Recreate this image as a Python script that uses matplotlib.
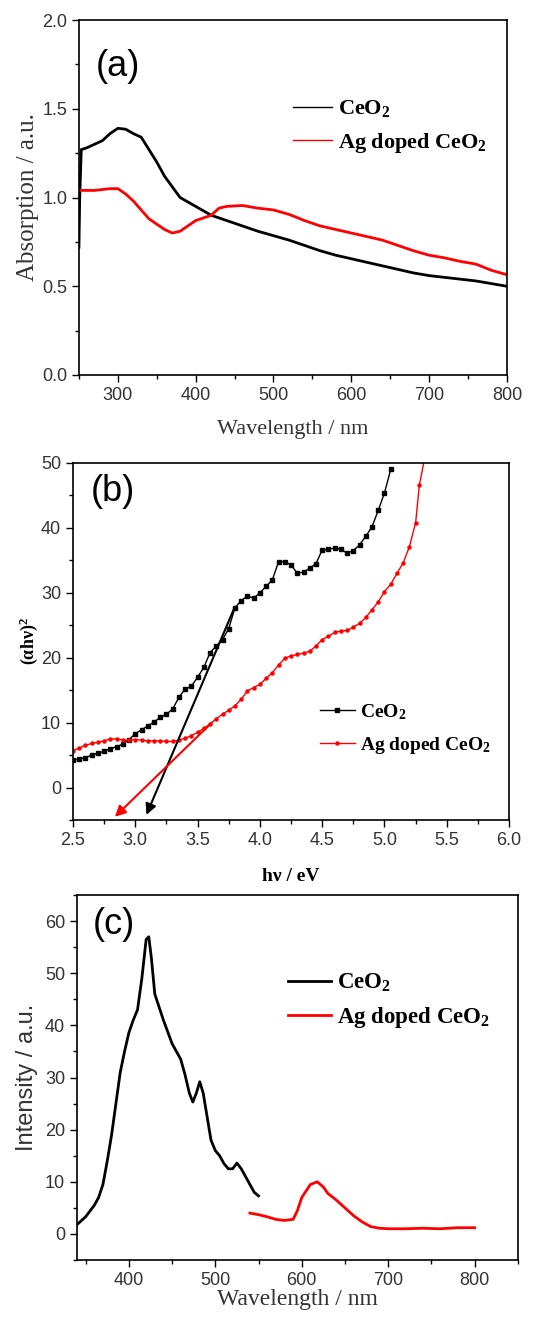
import matplotlib
matplotlib.use("Agg")
import matplotlib.pyplot as plt
from matplotlib.ticker import MultipleLocator, FormatStrFormatter

# (a) UV-vis absorption
wl_a = [250, 251, 253, 260, 270, 280, 290, 300, 310, 320, 330, 340, 350, 360, 370, 380,
        400, 420, 440, 460, 480, 500, 520, 540, 560, 580, 600, 620, 640, 660, 680,
        700, 720, 740, 760, 780, 800]
abs_ceo2 = [0.72, 1.0, 1.27, 1.28, 1.30, 1.32, 1.36, 1.39, 1.385, 1.36, 1.34, 1.27, 1.2, 1.12,
            1.06, 1.0, 0.95, 0.9, 0.87, 0.84, 0.81, 0.785, 0.76, 0.73, 0.70, 0.675, 0.655,
            0.635, 0.615, 0.595, 0.575, 0.56, 0.55, 0.54, 0.53, 0.515, 0.50]
wl_a2 = [250, 270, 290, 300, 310, 320, 330, 340, 350, 360, 370, 380, 390, 400, 420, 430, 440,
         460, 480, 500, 520, 540, 560, 580, 600, 620, 640, 660, 680, 700, 720, 740, 760, 780, 800]
abs_ag = [1.04, 1.04, 1.05, 1.05, 1.02, 0.98, 0.93, 0.88, 0.85, 0.82, 0.80, 0.81, 0.84, 0.87,
          0.9, 0.94, 0.95, 0.955, 0.94, 0.93, 0.905, 0.87, 0.84, 0.82, 0.80, 0.78, 0.76, 0.73,
          0.70, 0.675, 0.66, 0.64, 0.625, 0.59, 0.565]

# (b) Tauc plot
ev_ceo2 = [2.5, 2.55, 2.6, 2.65, 2.7, 2.75, 2.8, 2.85, 2.9, 2.95, 3.0, 3.05, 3.1, 3.15, 3.2,
           3.25, 3.3, 3.35, 3.4, 3.45, 3.5, 3.55, 3.6, 3.65, 3.7, 3.75, 3.8, 3.85, 3.9, 3.95,
           4.0, 4.05, 4.1, 4.15, 4.2, 4.25, 4.3, 4.35, 4.4, 4.45, 4.5, 4.55, 4.6, 4.65, 4.7,
           4.75, 4.8, 4.85, 4.9, 4.95, 5.0, 5.05]
tauc_ceo2 = [4.2, 4.4, 4.6, 5.0, 5.3, 5.6, 6.0, 6.3, 6.7, 7.4, 8.3, 8.9, 9.5, 10.1, 10.8, 11.3,
             12.1, 13.9, 15.2, 15.6, 17.0, 18.5, 20.8, 21.8, 22.8, 24.5, 27.7, 28.8, 29.5,
             29.2, 30.0, 31.0, 32.0, 34.8, 34.8, 34.3, 33.0, 33.2, 33.8, 34.5, 36.6, 36.7,
             36.9, 36.7, 36.1, 36.5, 37.4, 38.7, 40.2, 42.7, 45.4, 49.0]
ev_ag = [2.5, 2.55, 2.6, 2.65, 2.7, 2.75, 2.8, 2.85, 2.9, 2.95, 3.0, 3.05, 3.1, 3.15, 3.2,
         3.25, 3.3, 3.35, 3.4, 3.45, 3.5, 3.55, 3.6, 3.65, 3.7, 3.75, 3.8, 3.85, 3.9, 3.95,
         4.0, 4.05, 4.1, 4.15, 4.2, 4.25, 4.3, 4.35, 4.4, 4.45, 4.5, 4.55, 4.6, 4.65, 4.7,
         4.75, 4.8, 4.85, 4.9, 4.95, 5.0, 5.05, 5.1, 5.15, 5.2, 5.25, 5.28, 5.32]
tauc_ag = [5.7, 6.1, 6.5, 6.8, 7.0, 7.2, 7.5, 7.5, 7.3, 7.3, 7.4, 7.3, 7.2, 7.2, 7.2, 7.1,
           7.1, 7.3, 7.6, 8.0, 8.5, 9.1, 9.8, 10.6, 11.3, 11.9, 12.6, 13.6, 14.9, 15.4,
           15.9, 16.8, 17.7, 18.9, 19.9, 20.3, 20.5, 20.7, 21.0, 21.8, 22.8, 23.3, 23.9,
           24.1, 24.2, 24.7, 25.3, 26.2, 27.4, 28.6, 30.2, 31.3, 33.0, 34.6, 37.1, 40.8,
           46.6, 50.5]
fit_ceo2 = [(3.80, 27.9), (3.08, -4.6)]
fit_ag = [(3.63, 10.3), (2.82, -4.8)]

# (c) PL spectra
wl_c = [340, 350, 360, 365, 370, 375, 380, 385, 390, 395, 400, 405, 410, 415, 420, 423, 426,
        430, 440, 450, 460, 465, 470, 474, 478, 482, 486, 490, 495, 500, 505, 510, 515, 520,
        525, 530, 535, 540, 545, 550]
pl_ceo2 = [1.8, 3.3, 5.5, 7.0, 9.5, 14.0, 19.0, 25.0, 31.0, 35.0, 38.6, 41.0, 43.0, 49.0, 56.5,
           57.0, 53.0, 46.0, 41.0, 36.5, 33.5, 30.5, 27.0, 25.3, 27.0, 29.2, 27.0, 23.0, 18.0,
           16.0, 15.0, 13.5, 12.5, 12.5, 13.6, 12.5, 11.0, 9.5, 8.0, 7.3]
wl_c2 = [540, 550, 560, 570, 580, 590, 595, 600, 610, 618, 625, 630, 640, 650, 660, 670, 680,
         690, 700, 720, 740, 760, 780, 800]
pl_ag = [4.0, 3.7, 3.3, 2.8, 2.6, 2.8, 4.5, 7.0, 9.5, 10.0, 9.0, 7.8, 6.5, 5.0, 3.5, 2.3, 1.4,
         1.1, 1.0, 1.0, 1.1, 1.0, 1.2, 1.2]

serif = "Liberation Serif"
sans = "Liberation Sans"
plt.rcParams["font.family"] = sans
plt.rcParams["mathtext.default"] = "regular"

fig = plt.figure(figsize=(5.37, 13.19), dpi=100)
ax1 = fig.add_axes([0.147, 0.7157, 0.797, 0.2691])
ax2 = fig.add_axes([0.136, 0.3783, 0.812, 0.2707])
ax3 = fig.add_axes([0.1434, 0.0447, 0.821, 0.2767])

for ax in (ax1, ax2, ax3):
    ax.tick_params(which="both", direction="out", top=False, right=False, labelsize=13,
                   labelcolor="#333333")
    ax.tick_params(which="major", length=5, width=1)
    ax.tick_params(which="minor", length=3, width=1)
    for s in ax.spines.values():
        s.set_linewidth(1.2)

# (a)
ax1.plot(wl_a, abs_ceo2, color="black", lw=2, label="CeO$_2$")
ax1.plot(wl_a2, abs_ag, color="red", lw=2, label="Ag doped CeO$_2$")
ax1.set_xlim(250, 800)
ax1.set_ylim(0, 2.0)
ax1.xaxis.set_major_locator(MultipleLocator(100))
ax1.xaxis.set_minor_locator(MultipleLocator(50))
ax1.yaxis.set_major_locator(MultipleLocator(0.5))
ax1.yaxis.set_minor_locator(MultipleLocator(0.25))
ax1.yaxis.set_major_formatter(FormatStrFormatter("%.1f"))
ax1.set_xlabel("Wavelength / nm", fontfamily=serif, fontsize=16, labelpad=12, color="#333333")
ax1.set_ylabel("Absorption / a.u.", fontfamily=serif, fontsize=18, labelpad=2, color="#333333")
ax1.text(0.04, 0.87, "(a)", transform=ax1.transAxes, fontsize=26, va="center")
leg = ax1.legend(loc="center left", bbox_to_anchor=(0.5, 0.70), frameon=False,
                 borderaxespad=0, borderpad=0,
                 prop={"family": serif, "weight": "bold", "size": 16},
                 handlelength=1.75, labelspacing=0.5, handletextpad=0.3)
for h in leg.get_lines():
    h.set_linewidth(1)

# (b)
ax2.plot(ev_ceo2, tauc_ceo2, color="black", lw=1, marker="s", ms=2.2, label="CeO$_2$")
ax2.plot(ev_ag, tauc_ag, color="red", lw=1, marker="o", ms=2.2, label="Ag doped CeO$_2$")
ax2.annotate("", xy=fit_ceo2[1], xytext=fit_ceo2[0],
             arrowprops=dict(arrowstyle="-|>", color="black", lw=1.5, mutation_scale=16))
ax2.annotate("", xy=fit_ag[1], xytext=fit_ag[0],
             arrowprops=dict(arrowstyle="-|>", color="red", lw=1.5, mutation_scale=16))
ax2.set_xlim(2.5, 6.0)
ax2.set_ylim(-5, 50)
ax2.xaxis.set_major_locator(MultipleLocator(0.5))
ax2.xaxis.set_minor_locator(MultipleLocator(0.25))
ax2.yaxis.set_major_locator(MultipleLocator(10))
ax2.yaxis.set_minor_locator(MultipleLocator(5))
ax2.set_xlabel("h\u03bd / eV", fontfamily=serif, fontweight="bold", fontsize=14, labelpad=14)
ax2.set_ylabel("(\u03b1h\u03bd)$^2$", fontfamily=serif, fontweight="bold", fontsize=13, labelpad=1)
ax2.text(0.04, 0.92, "(b)", transform=ax2.transAxes, fontsize=26, va="center")
ax2.legend(loc="center left", bbox_to_anchor=(0.566, 0.255), frameon=False,
           borderaxespad=0, borderpad=0,
           prop={"family": serif, "weight": "bold", "size": 14},
           handlelength=1.8, labelspacing=0.7, handletextpad=0.25)

# (c)
ax3.plot(wl_c, pl_ceo2, color="black", lw=2, label="CeO$_2$")
ax3.plot(wl_c2, pl_ag, color="red", lw=2, label="Ag doped CeO$_2$")
ax3.set_xlim(340, 850)
ax3.set_ylim(-5, 65)
ax3.xaxis.set_major_locator(MultipleLocator(100))
ax3.xaxis.set_minor_locator(MultipleLocator(50))
ax3.yaxis.set_major_locator(MultipleLocator(10))
ax3.yaxis.set_minor_locator(MultipleLocator(5))
ax3.set_xlabel("Wavelength / nm", fontfamily=serif, fontsize=17, labelpad=0, color="#333333")
ax3.set_ylabel("Intensity / a.u.", fontfamily=sans, fontsize=17, labelpad=5, color="#333333")
ax3.text(0.035, 0.92, "(c)", transform=ax3.transAxes, fontsize=26, va="center")
ax3.legend(loc="center left", bbox_to_anchor=(0.478, 0.71), frameon=False,
           borderaxespad=0, borderpad=0,
           prop={"family": serif, "weight": "bold", "size": 16.5},
           handlelength=1.9, labelspacing=0.5, handletextpad=0.25)

fig.savefig("out.png", dpi=100)
